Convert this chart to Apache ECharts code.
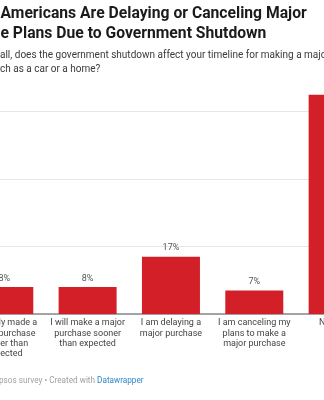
<!DOCTYPE html>
<html>
<head>
<meta charset="utf-8">
<script src="https://cdn.jsdelivr.net/npm/echarts@6/dist/echarts.min.js"></script>
<style>
html,body{margin:0;padding:0;background:#fff;overflow:hidden;width:324px;height:400px;position:relative;}
#chart{position:absolute;left:-60px;top:0;width:460px;height:400px;}
</style>
</head>
<body>
<div id="chart"></div>
<script>
var categories = [
  'I already made a\nmajor purchase\nsooner than\nexpected',
  'I will make a major\npurchase sooner\nthan expected',
  'I am delaying a\nmajor purchase',
  'I am canceling my\nplans to make a\nmajor purchase',
  'No effect'
];
var values = [8, 8, 17, 7, 65];
var yTicks = [0, 20, 40, 60];

var titleText = 'Americans Are Delaying or Canceling Major\ne Plans Due to Government Shutdown';
var subtitleText = 'all, does the government shutdown affect your timeline for making a major\nch as a car or a home?';
var footerSource = 'psos survey \u2022 Created with ';
var footerLink = 'Datawrapper';

var OFF = 60; // container is shifted left by this many px
var chart = echarts.init(document.getElementById('chart'), null, {renderer: 'canvas'});
var font = 'Roboto, "Noto Sans", sans-serif';
chart.setOption({
  animation: false,
  backgroundColor: '#ffffff',
  title: [
    {
      text: titleText, left: OFF + 0.5, top: 4.5, padding: 0,
      textStyle: {fontFamily: font, fontSize: 15.7, fontWeight: 'bold', lineHeight: 20, color: '#1b1b1b'}
    },
    {
      text: subtitleText, left: OFF, top: 49, padding: 0,
      textStyle: {fontFamily: font, fontSize: 10, fontWeight: 'normal', lineHeight: 13.4, color: '#3a3a3a'}
    },
    {
      text: '{a|' + footerSource + '}{b|' + footerLink + '}', left: OFF - 1, top: 377, padding: 0,
      textStyle: {
        fontFamily: font, fontSize: 8.2, fontWeight: 'normal',
        rich: {
          a: {fontFamily: font, fontSize: 8.2, color: '#a0a0a0'},
          b: {fontFamily: font, fontSize: 8.2, color: '#2f86c8'}
        }
      }
    }
  ],
  grid: {left: OFF - 37.4, right: 460 - OFF + 37.4 - 416.7, top: 77.75, bottom: 86, containLabel: false},
  xAxis: {
    type: 'category',
    data: categories,
    axisTick: {show: false},
    axisLine: {show: true, lineStyle: {color: '#8a8a8a', width: 1.5}},
    axisLabel: {interval: 0, fontFamily: font, fontSize: 9, lineHeight: 10.3, color: '#444444', margin: 4}
  },
  yAxis: {
    type: 'value',
    min: yTicks[0],
    max: 70,
    interval: yTicks[1] - yTicks[0],
    axisLabel: {show: false},
    axisLine: {show: false},
    axisTick: {show: false},
    splitLine: {show: true, showMaxLine: false, lineStyle: {color: '#e6e6e6', width: 1}}
  },
  series: [{
    type: 'bar',
    data: values,
    barWidth: 58,
    itemStyle: {color: '#d31f27'},
    label: {
      show: true, position: 'top', distance: 4,
      formatter: '{c}%',
      fontFamily: font, fontSize: 9, color: '#555555'
    }
  }]
});
</script>
</body>
</html>
